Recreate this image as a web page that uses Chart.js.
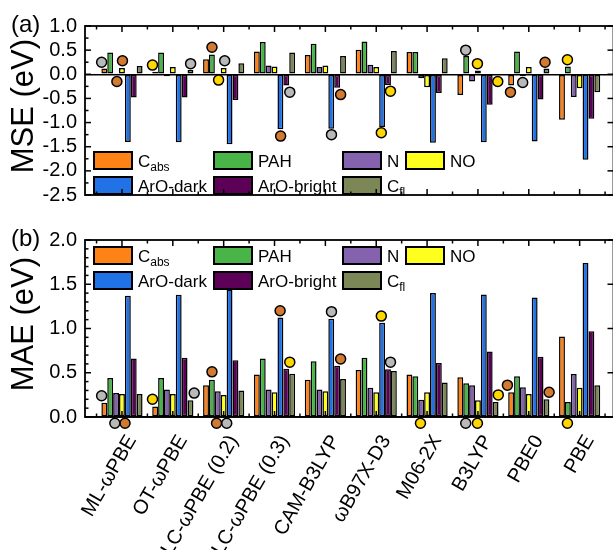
<!DOCTYPE html>
<html>
<head>
<meta charset="utf-8">
<script src="https://cdn.jsdelivr.net/npm/chart.js@4.4.1/dist/chart.umd.min.js"></script>
<style>
  html, body { margin: 0; padding: 0; background: #fff; overflow: hidden; }
  #wrap { position: relative; width: 613px; height: 550px; overflow: hidden; }
  canvas { position: absolute; left: 0; }
  #mse { top: 0; }
  #mae { top: 215px; }
</style>
</head>
<body>
<div id="wrap">
  <canvas id="mse" width="620" height="215"></canvas>
  <canvas id="mae" width="620" height="340"></canvas>
</div>
<script>
// functionals on the x axis
const functionals = ['ML-ωPBE', 'OT-ωPBE', 'LC-ωPBE (0.2)', 'LC-ωPBE (0.3)', 'CAM-B3LYP', 'ωB97X-D3', 'M06-2X', 'B3LYP', 'PBE0', 'PBE'];
// series (underscore = subscript in the legend)
const seriesNames = ['C_abs', 'PAH', 'N', 'NO', 'ArO-dark', 'ArO-bright', 'C_fl'];
const seriesColors = ['#ff8216', '#49b548', '#8462ad', '#ffff1e', '#2172e6', '#5c0058', '#7c8758'];

// (a) mean signed error, eV
const mseCabs   = [0.12, 0.05, 0.31, 0.47, 0.40, 0.51, 0.46, -0.43, -0.23, -0.94];
const msePAH    = [0.45, 0.45, 0.41, 0.67, 0.63, 0.68, 0.46, 0.38, 0.47, 0.16];
const mseN      = [0.02, -0.04, 0.02, 0.18, 0.15, 0.20, -0.08, -0.15, -0.04, -0.47];
const mseNO     = [0.13, 0.15, 0.13, 0.16, 0.18, 0.15, -0.27, 0.08, 0.15, -0.29];
const mseDark   = [-1.40, -1.41, -1.45, -1.14, -1.13, -1.09, -1.42, -1.41, -1.39, -1.77];
const mseBright = [-0.48, -0.48, -0.53, -0.23, -0.28, -0.22, -0.39, -0.63, -0.52, -0.92];
const mseCfl    = [0.17, 0.09, 0.23, 0.45, 0.38, 0.48, 0.33, 0.00, 0.12, -0.37];

// (b) mean absolute error, eV
const maeCabs   = [0.16, 0.12, 0.36, 0.48, 0.42, 0.53, 0.48, 0.45, 0.28, 0.91];
const maePAH    = [0.44, 0.44, 0.42, 0.66, 0.63, 0.67, 0.46, 0.38, 0.46, 0.17];
const maeN      = [0.27, 0.31, 0.29, 0.31, 0.31, 0.33, 0.195, 0.36, 0.335, 0.485];
const maeNO     = [0.26, 0.26, 0.25, 0.28, 0.29, 0.28, 0.28, 0.19, 0.26, 0.33];
const maeDark   = [1.37, 1.38, 1.44, 1.125, 1.11, 1.065, 1.40, 1.385, 1.35, 1.74];
const maeBright = [0.66, 0.67, 0.64, 0.545, 0.58, 0.54, 0.61, 0.74, 0.68, 0.97];
const maeCfl    = [0.26, 0.19, 0.30, 0.49, 0.43, 0.52, 0.39, 0.17, 0.20, 0.36];

// circle markers: [functional index, shift inside the group, value]
const mseGrey   = [[0, -0.40, 0.25], [1, 0.35, 0.22], [2, 0.02, 0.28], [3, 0.30, -0.37], [4, 0.12, -1.25], [7, -0.24, 0.50], [8, -0.12, -0.17]];
const mseOrange = [[0, -0.10, -0.15], [0, 0.01, 0.28], [2, -0.23, 0.56], [3, 0.12, -1.28], [4, 0.30, -0.42], [8, -0.36, -0.37], [8, 0.32, 0.25]];
const mseGold   = [[1, -0.40, 0.19], [2, -0.10, -0.12], [5, 0.28, -0.35], [5, 0.10, -1.21], [7, -0.01, 0.22], [7, 0.39, -0.15], [9, -0.24, 0.30]];
const maeGrey   = [[0, -0.40, 0.24], [0, -0.14, -0.07], [1, 0.42, 0.27], [2, 0.06, -0.07], [4, 0.12, 1.19], [5, 0.28, 0.62], [7, -0.24, -0.07]];
const maeOrange = [[0, 0.06, -0.07], [2, -0.23, 0.51], [2, -0.14, -0.07], [3, 0.11, 1.20], [4, 0.30, 0.655], [8, -0.42, 0.36], [8, 0.40, 0.28]];
const maeGold   = [[1, -0.40, 0.20], [3, 0.30, 0.62], [5, 0.10, 1.14], [6, -0.13, -0.07], [7, -0.01, -0.07], [7, 0.40, 0.25], [9, -0.24, -0.07]];

const markerColors = ['#b9b9b9', '#d27a30', '#ffd600'];
const FONT = 'Liberation Sans, Arial, sans-serif';

// inward tick marks, the box round the plot and the panel tag
const frameTicks = {
  id: 'frameTicks',
  afterDraw(chart, args, opts) {
    const { ctx, chartArea: a, scales: { x, y } } = chart;
    ctx.save();
    ctx.strokeStyle = '#000';
    ctx.lineWidth = 1.5;
    const seg = (x1, y1, x2, y2) => { ctx.beginPath(); ctx.moveTo(x1, y1); ctx.lineTo(x2, y2); ctx.stroke(); };
    for (let v = Math.ceil(x.min * 2) / 2; v <= x.max; v += 0.5) {
      const px = x.getPixelForValue(v);
      const len = Number.isInteger(v) ? 6 : 3.5;
      seg(px, a.top, px, a.top + len);
      seg(px, a.bottom, px, a.bottom - len);
    }
    const n = Math.round((y.max - y.min) / opts.minor);
    for (let i = 0; i <= n; i++) {
      const v = y.min + i * opts.minor;
      const py = y.getPixelForValue(v);
      const major = Math.abs(v / 0.5 - Math.round(v / 0.5)) < 1e-6;
      seg(a.left, py, a.left + (major ? 6 : 3.5), py);
      if (major) seg(a.right, py, a.right - 6, py);
    }
    ctx.lineWidth = 1.8;
    ctx.strokeRect(a.left, a.top, a.right - a.left, a.bottom - a.top);
    ctx.fillStyle = '#000';
    ctx.font = '24px ' + FONT;
    ctx.textAlign = 'left';
    ctx.textBaseline = 'middle';
    ctx.fillText(opts.tag, 11, a.top - 1);
    ctx.restore();
  }
};

// two-row legend with aligned columns, drawn inside the plot
const boxLegend = {
  id: 'boxLegend',
  afterDatasetsDraw(chart, args, opts) {
    const { ctx, chartArea: a } = chart;
    ctx.save();
    opts.items.forEach(([ds, col, row]) => {
      const d = chart.data.datasets[ds];
      const bx = a.left + opts.cols[col];
      const by = a.top + opts.rows[row];
      ctx.fillStyle = d.backgroundColor;
      ctx.fillRect(bx, by, 38, 17);
      ctx.lineWidth = 2;
      ctx.strokeStyle = '#000';
      ctx.strokeRect(bx, by, 38, 17);
      const [main, sub] = d.label.split('_');
      ctx.fillStyle = '#000';
      ctx.textBaseline = 'alphabetic';
      ctx.textAlign = 'left';
      ctx.font = '17px ' + FONT;
      const tx = bx + 44, ty = by + 15;
      ctx.fillText(main, tx, ty);
      if (sub) {
        const w = ctx.measureText(main).width;
        ctx.font = '12px ' + FONT;
        ctx.fillText(sub, tx + w, ty + 4);
      }
    });
    ctx.restore();
  }
};

function barSets(lists) {
  return lists.map((vals, k) => ({
    type: 'bar',
    label: seriesNames[k],
    data: vals.map((v, i) => ({ x: i, y: v })),
    backgroundColor: seriesColors[k],
    borderColor: '#000',
    borderWidth: 1.5,
    borderSkipped: false,
    categoryPercentage: 0.81,
    barPercentage: 1
  }));
}

function markerSets(lists) {
  return lists.map((pts, k) => ({
    type: 'scatter',
    label: 'marker' + k,
    data: pts.map(([g, s, v]) => ({ x: g + s, y: v })),
    backgroundColor: markerColors[k],
    borderColor: '#000',
    pointRadius: 5,
    pointBorderWidth: 1.5,
    showLine: false,
    clip: false
  }));
}

function panel(id, bars, markers, yOpt, xHeight, showLabels) {
  new Chart(document.getElementById(id), {
    type: 'bar',
    data: { datasets: barSets(bars).concat(markerSets(markers)) },
    plugins: [frameTicks, boxLegend],
    options: {
      responsive: false,
      animation: false,
      devicePixelRatio: 1,
      layout: { padding: { top: yOpt.top, right: 6, bottom: 0, left: 0 } },
      plugins: {
        legend: { display: false },
        tooltip: { enabled: false },
        frameTicks: { minor: yOpt.minor, tag: yOpt.tag },
        boxLegend: {
          cols: [9, 129, 258, 321],
          rows: yOpt.legendRows,
          items: [[0, 0, 0], [1, 1, 0], [2, 2, 0], [3, 3, 0], [4, 0, 1], [5, 1, 1], [6, 2, 1]]
        }
      },
      scales: {
        x: {
          type: 'linear',
          min: -0.727,
          max: 9.666,
          offset: false,
          grid: { display: false, offset: false },
          border: { display: false },
          afterBuildTicks: s => { s.ticks = functionals.map((_, i) => ({ value: i })); },
          afterFit: s => { s.height = xHeight; },
          ticks: {
            display: showLabels,
            autoSkip: false,
            minRotation: 60,
            maxRotation: 60,
            padding: 6,
            labelOffset: 10,
            color: '#000',
            font: { family: FONT, size: 20 },
            callback: v => functionals[v] ?? ''
          }
        },
        y: {
          min: yOpt.min,
          max: yOpt.max,
          afterFit: s => { s.width = 85; },
          border: { display: false },
          grid: {
            drawTicks: false,
            lineWidth: 1.5,
            color: c => (c.tick && c.tick.value === 0 ? '#000' : 'rgba(0,0,0,0)')
          },
          ticks: {
            stepSize: 0.5,
            autoSkip: false,
            padding: 8,
            color: '#000',
            font: { family: FONT, size: 20 },
            callback: v => v.toFixed(1)
          },
          title: {
            display: true,
            text: yOpt.title,
            color: '#000',
            font: { family: FONT, size: 31 },
            padding: { top: 6, bottom: 0 }
          }
        }
      }
    }
  });
}

panel('mse',
  [mseCabs, msePAH, mseN, mseNO, mseDark, mseBright, mseCfl],
  [mseGrey, mseOrange, mseGold],
  { min: -2.5, max: 1.0, minor: 0.25, top: 26, title: ' MSE (eV)', tag: '(a)', legendRows: [126, 151] },
  13, false);

panel('mae',
  [maeCabs, maePAH, maeN, maeNO, maeDark, maeBright, maeCfl],
  [maeGrey, maeOrange, maeGold],
  { min: 0, max: 2.0, minor: 0.1, top: 25, title: ' MAE (eV)', tag: '(b)', legendRows: [7, 32] },
  138, true);
</script>
</body>
</html>
